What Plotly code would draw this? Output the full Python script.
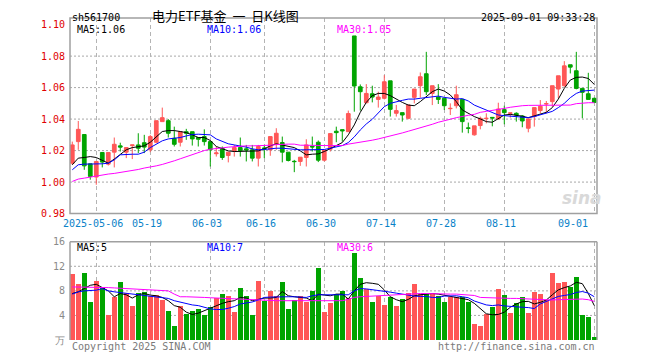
import plotly.graph_objects as go

# ---------------- data ----------------
dates = [
    '2025-04-25', '2025-04-28', '2025-04-29', '2025-04-30',
    '2025-05-06', '2025-05-07', '2025-05-08', '2025-05-09',
    '2025-05-12', '2025-05-13', '2025-05-14', '2025-05-15', '2025-05-16',
    '2025-05-19', '2025-05-20', '2025-05-21', '2025-05-22', '2025-05-23',
    '2025-05-26', '2025-05-27', '2025-05-28', '2025-05-29', '2025-05-30',
    '2025-06-03', '2025-06-04', '2025-06-05', '2025-06-06',
    '2025-06-09', '2025-06-10', '2025-06-11', '2025-06-12', '2025-06-13',
    '2025-06-16', '2025-06-17', '2025-06-18', '2025-06-19', '2025-06-20',
    '2025-06-23', '2025-06-24', '2025-06-25', '2025-06-26', '2025-06-27',
    '2025-06-30', '2025-07-01', '2025-07-02', '2025-07-03', '2025-07-04',
    '2025-07-07', '2025-07-08', '2025-07-09', '2025-07-10', '2025-07-11',
    '2025-07-14', '2025-07-15', '2025-07-16', '2025-07-17', '2025-07-18',
    '2025-07-21', '2025-07-22', '2025-07-23', '2025-07-24', '2025-07-25',
    '2025-07-28', '2025-07-29', '2025-07-30', '2025-07-31', '2025-08-01',
    '2025-08-04', '2025-08-05', '2025-08-06', '2025-08-07', '2025-08-08',
    '2025-08-11', '2025-08-12', '2025-08-13', '2025-08-14', '2025-08-15',
    '2025-08-18', '2025-08-19', '2025-08-20', '2025-08-21', '2025-08-22',
    '2025-08-25', '2025-08-26', '2025-08-27', '2025-08-28', '2025-08-29',
    '2025-09-01',
]

opens = [1.0120, 1.0257, 1.0302, 1.0116, 1.0032, 1.0188, 1.0114, 1.0190, 1.0230, 1.0190,
         1.0232, 1.0236, 1.0250, 1.0205, 1.0253, 1.0384, 1.0390, 1.0278, 1.0253, 1.0320,
         1.0320, 1.0283, 1.0289, 1.0257, 1.0180, 1.0215, 1.0169, 1.0198, 1.0219, 1.0211,
         1.0205, 1.0152, 1.0217, 1.0205, 1.0240, 1.0251, 1.0190, 1.0132, 1.0131, 1.0156,
         1.0227, 1.0253, 1.0139, 1.0209, 1.0323, 1.0333, 1.0320, 1.0928, 1.0605, 1.0504,
         1.0561, 1.0525, 1.0532, 1.0643, 1.0437, 1.0441, 1.0405, 1.0538, 1.0612, 1.0688,
         1.0563, 1.0540, 1.0532, 1.0466, 1.0485, 1.0525, 1.0344, 1.0300, 1.0359, 1.0403,
         1.0411, 1.0401, 1.0460, 1.0437, 1.0437, 1.0420, 1.0342, 1.0416, 1.0454, 1.0496,
         1.0511, 1.0591, 1.0612, 1.0745, 1.0707, 1.0595, 1.0561, 1.0532]
highs = [1.0257, 1.0388, 1.0302, 1.0116, 1.0131, 1.0188, 1.0188, 1.0283, 1.0250, 1.0220,
         1.0236, 1.0310, 1.0300, 1.0300, 1.0390, 1.0473, 1.0400, 1.0352, 1.0320, 1.0338,
         1.0320, 1.0283, 1.0335, 1.0257, 1.0226, 1.0226, 1.0190, 1.0236, 1.0283, 1.0236,
         1.0236, 1.0236, 1.0236, 1.0289, 1.0342, 1.0289, 1.0190, 1.0141, 1.0158, 1.0272,
         1.0289, 1.0264, 1.0203, 1.0308, 1.0352, 1.0333, 1.0454, 1.0928, 1.0620, 1.0622,
         1.0612, 1.0574, 1.0679, 1.0643, 1.0490, 1.0441, 1.0490, 1.0591, 1.0696, 1.0827,
         1.0612, 1.0622, 1.0532, 1.0500, 1.0612, 1.0525, 1.0378, 1.0357, 1.0416, 1.0437,
         1.0411, 1.0504, 1.0485, 1.0439, 1.0443, 1.0426, 1.0401, 1.0473, 1.0521, 1.0515,
         1.0612, 1.0675, 1.0768, 1.0745, 1.0827, 1.0595, 1.0694, 1.0536]
lows = [1.0110, 1.0205, 1.0078, 1.0015, 0.9983, 1.0093, 1.0105, 1.0093, 1.0194, 1.0152,
        1.0146, 1.0184, 1.0184, 1.0190, 1.0247, 1.0384, 1.0283, 1.0226, 1.0226, 1.0268,
        1.0232, 1.0226, 1.0232, 1.0099, 1.0162, 1.0141, 1.0125, 1.0162, 1.0162, 1.0131,
        1.0131, 1.0099, 1.0152, 1.0167, 1.0205, 1.0125, 1.0131, 1.0063, 1.0103, 1.0099,
        1.0194, 1.0127, 1.0131, 1.0194, 1.0253, 1.0257, 1.0320, 1.0447, 1.0454, 1.0500,
        1.0506, 1.0473, 1.0525, 1.0416, 1.0416, 1.0384, 1.0399, 1.0500, 1.0536, 1.0553,
        1.0489, 1.0496, 1.0458, 1.0426, 1.0468, 1.0314, 1.0310, 1.0295, 1.0335, 1.0373,
        1.0354, 1.0395, 1.0367, 1.0409, 1.0384, 1.0348, 1.0316, 1.0352, 1.0437, 1.0437,
        1.0479, 1.0532, 1.0605, 1.0690, 1.0589, 1.0405, 1.0525, 1.0506]
closes = [1.0236, 1.0335, 1.0103, 1.0036, 1.0131, 1.0127, 1.0188, 1.0240, 1.0222, 1.0219,
          1.0236, 1.0215, 1.0222, 1.0289, 1.0390, 1.0409, 1.0310, 1.0240, 1.0320, 1.0310,
          1.0274, 1.0272, 1.0257, 1.0205, 1.0185, 1.0156, 1.0190, 1.0219, 1.0200, 1.0203,
          1.0152, 1.0226, 1.0211, 1.0289, 1.0310, 1.0190, 1.0137, 1.0130, 1.0158, 1.0236,
          1.0223, 1.0139, 1.0203, 1.0308, 1.0314, 1.0325, 1.0435, 1.0610, 1.0574, 1.0563,
          1.0540, 1.0540, 1.0637, 1.0462, 1.0454, 1.0426, 1.0490, 1.0591, 1.0669, 1.0574,
          1.0612, 1.0525, 1.0485, 1.0468, 1.0555, 1.0384, 1.0342, 1.0357, 1.0405, 1.0405,
          1.0407, 1.0464, 1.0441, 1.0439, 1.0426, 1.0388, 1.0401, 1.0473, 1.0481, 1.0498,
          1.0612, 1.0675, 1.0738, 1.0730, 1.0595, 1.0570, 1.0525, 1.0506]

ma5 = [1.0110, 1.0152, 1.0156, 1.0162, 1.0156, 1.0137, 1.0120, 1.0146, 1.0177, 1.0205,
       1.0219, 1.0226, 1.0230, 1.0253, 1.0289, 1.0321, 1.0327, 1.0327, 1.0321, 1.0314,
       1.0300, 1.0283, 1.0283, 1.0264, 1.0226, 1.0211, 1.0198, 1.0194, 1.0194, 1.0194,
       1.0194, 1.0198, 1.0211, 1.0230, 1.0243, 1.0236, 1.0226, 1.0219, 1.0198, 1.0173,
       1.0177, 1.0179, 1.0194, 1.0215, 1.0232, 1.0251, 1.0300, 1.0363, 1.0443, 1.0506,
       1.0549, 1.0563, 1.0563, 1.0549, 1.0525, 1.0506, 1.0489, 1.0485, 1.0511, 1.0540,
       1.0574, 1.0591, 1.0578, 1.0553, 1.0511, 1.0458, 1.0437, 1.0416, 1.0401, 1.0384,
       1.0380, 1.0401, 1.0426, 1.0430, 1.0426, 1.0418, 1.0409, 1.0422, 1.0430, 1.0443,
       1.0473, 1.0527, 1.0595, 1.0648, 1.0665, 1.0667, 1.0658, 1.0620]
ma10 = [1.0078, 1.0110, 1.0114, 1.0114, 1.0114, 1.0116, 1.0120, 1.0141, 1.0173, 1.0177,
        1.0177, 1.0177, 1.0190, 1.0219, 1.0241, 1.0262, 1.0274, 1.0278, 1.0283, 1.0293,
        1.0302, 1.0304, 1.0304, 1.0300, 1.0274, 1.0257, 1.0243, 1.0236, 1.0230, 1.0222,
        1.0211, 1.0205, 1.0207, 1.0213, 1.0215, 1.0215, 1.0211, 1.0211, 1.0205, 1.0205,
        1.0205, 1.0205, 1.0207, 1.0215, 1.0224, 1.0232, 1.0251, 1.0287, 1.0331, 1.0369,
        1.0399, 1.0437, 1.0479, 1.0500, 1.0511, 1.0519, 1.0527, 1.0527, 1.0532, 1.0536,
        1.0540, 1.0546, 1.0538, 1.0532, 1.0527, 1.0530, 1.0515, 1.0489, 1.0473, 1.0454,
        1.0439, 1.0426, 1.0422, 1.0418, 1.0414, 1.0409, 1.0409, 1.0416, 1.0426, 1.0437,
        1.0449, 1.0473, 1.0500, 1.0536, 1.0563, 1.0578, 1.0582, 1.0584]
ma30 = [1.0004, 1.0019, 1.0025, 1.0032, 1.0036, 1.0042, 1.0051, 1.0055, 1.0061, 1.0065,
        1.0072, 1.0080, 1.0089, 1.0095, 1.0103, 1.0112, 1.0122, 1.0135, 1.0148, 1.0162,
        1.0177, 1.0190, 1.0200, 1.0209, 1.0215, 1.0217, 1.0222, 1.0226, 1.0228, 1.0230,
        1.0230, 1.0230, 1.0232, 1.0234, 1.0238, 1.0241, 1.0241, 1.0241, 1.0234, 1.0234,
        1.0232, 1.0232, 1.0232, 1.0232, 1.0232, 1.0232, 1.0241, 1.0247, 1.0253, 1.0257,
        1.0266, 1.0274, 1.0283, 1.0291, 1.0302, 1.0312, 1.0323, 1.0333, 1.0346, 1.0357,
        1.0367, 1.0380, 1.0388, 1.0399, 1.0409, 1.0418, 1.0424, 1.0430, 1.0443, 1.0449,
        1.0454, 1.0460, 1.0468, 1.0475, 1.0481, 1.0485, 1.0487, 1.0487, 1.0485, 1.0485,
        1.0485, 1.0485, 1.0485, 1.0489, 1.0498, 1.0502, 1.0504, 1.0504]

volume = [10.77, 9.07, 10.93, 6.13, 9.60, 8.69, 4.00, 6.93, 9.49, 7.73,
          5.49, 7.73, 7.89, 7.10, 7.36, 6.56, 4.69, 2.24, 5.49, 4.16,
          4.69, 5.07, 4.00, 5.33, 6.83, 7.57, 7.20, 4.53, 8.53, 7.20,
          4.00, 9.60, 6.40, 8.00, 7.20, 9.44, 5.12, 6.56, 7.20, 6.24,
          8.00, 11.73, 4.64, 5.97, 7.47, 8.00, 6.83, 14.24, 10.13, 8.27,
          6.13, 7.09, 5.76, 6.93, 5.60, 6.67, 7.73, 9.17, 7.47, 7.47,
          7.73, 7.09, 6.24, 7.04, 7.04, 6.93, 6.24, 2.56, 2.24, 4.16,
          5.33, 8.37, 7.36, 4.37, 5.97, 7.04, 4.37, 7.89, 7.47, 6.51,
          10.93, 9.33, 9.49, 8.69, 10.29, 4.00, 3.73, 0.53]
vol_ma5 = [7.57, 7.84, 8.37, 8.91, 9.07, 8.53, 8.00, 7.04, 7.57, 7.36,
           6.83, 7.36, 7.57, 7.31, 7.20, 6.93, 6.40, 5.60, 5.33, 4.53,
           4.16, 4.37, 4.80, 5.23, 5.60, 5.97, 6.24, 6.40, 6.93, 6.83,
           6.40, 6.56, 6.83, 6.83, 6.93, 7.89, 7.20, 7.04, 6.93, 6.83,
           6.40, 7.47, 7.31, 7.20, 7.47, 7.47, 6.67, 8.00, 9.07, 9.33,
           9.23, 9.07, 8.16, 7.04, 6.56, 6.24, 6.61, 7.20, 7.36, 7.47,
           7.57, 7.47, 7.31, 7.04, 6.93, 6.77, 6.56, 5.97, 5.07, 4.27,
           4.11, 4.16, 4.53, 5.33, 5.87, 6.24, 6.29, 5.87, 6.13, 6.51,
           7.36, 8.16, 8.53, 8.80, 9.39, 9.17, 7.57, 5.60]
vol_ma10 = [7.47, 7.84, 8.00, 8.00, 8.11, 8.37, 8.00, 7.84, 7.73, 7.57,
            7.47, 7.36, 7.20, 7.09, 7.04, 6.99, 6.77, 6.40, 6.13, 5.87,
            5.71, 5.60, 5.33, 5.07, 4.96, 4.96, 5.17, 5.44, 5.87, 5.97,
            6.19, 6.51, 6.93, 6.99, 7.04, 7.04, 7.04, 7.04, 6.99, 6.93,
            7.20, 7.36, 7.36, 7.36, 7.36, 7.36, 7.36, 8.00, 8.37, 8.32,
            8.21, 8.00, 7.89, 7.79, 7.63, 7.47, 7.25, 7.15, 7.09, 7.09,
            6.93, 6.93, 7.15, 7.20, 7.20, 7.04, 6.88, 6.35, 5.97, 5.71,
            5.60, 5.71, 5.55, 5.44, 5.39, 5.33, 5.28, 5.12, 5.87, 6.29,
            6.72, 7.09, 7.25, 7.41, 7.73, 7.89, 7.63, 7.04]
vol_ma30 = [8.64, 8.64, 8.64, 8.64, 8.64, 8.59, 8.53, 8.48, 8.43, 8.37,
            8.37, 8.37, 8.32, 8.27, 8.21, 8.11, 8.00, 7.47, 7.04, 7.04,
            7.04, 6.99, 6.93, 6.88, 6.83, 6.77, 6.72, 6.67, 6.67, 6.61,
            6.51, 6.45, 6.51, 6.45, 6.40, 6.40, 6.40, 6.40, 6.35, 6.35,
            6.40, 6.40, 6.40, 6.40, 6.40, 6.40, 6.61, 6.93, 7.04, 7.09,
            7.20, 7.31, 7.36, 7.36, 7.36, 7.41, 7.47, 7.52, 7.57, 7.57,
            7.52, 7.47, 7.47, 7.47, 7.47, 7.41, 7.36, 7.25, 6.93, 6.88,
            6.83, 6.83, 6.77, 6.77, 6.77, 6.72, 6.72, 6.67, 6.61, 6.51,
            6.51, 6.56, 6.61, 6.67, 6.67, 6.67, 6.56, 6.29]

price_ticks = [0.98, 1.00, 1.02, 1.04, 1.06, 1.08, 1.10]
price_grid = [1.00, 1.02, 1.04, 1.06, 1.08]
vol_ticks = [0, 4, 8, 12, 16]
vol_tick_text = ['万', '4', '8', '12', '16']
vol_grid = [4, 8, 12]
date_ticks = ['2025-05-06', '2025-05-19', '2025-06-03', '2025-06-16', '2025-06-30',
              '2025-07-14', '2025-07-28', '2025-08-11', '2025-09-01']
date_tick_text = ['2025-05-06', '05-19', '06-03', '06-16', '06-30',
                  '07-14', '07-28', '08-11', '09-01']

code = 'sh561700'
title = '电力ETF基金\u00a0\u00a0一\u00a0\u00a0日K线图'
stamp = '2025-09-01 09:33:28'
price_ma_labels = ['MA5:1.06', 'MA10:1.06', 'MA30:1.05']
vol_ma_labels = ['MA5:5', 'MA10:7', 'MA30:6']

# ---------------- styling ----------------
RED = '#ff5757'
GREEN = '#00a400'
MA_COLORS = ['#000000', '#0000ff', '#ff00ff']
MONO = 'DejaVu Sans Mono'
GRID_V = '#b4b4b4'
GRID_H = '#a8a8a8'
BORDER = '#a0a0a0'

W, H = 660, 360
L, R, T, B = 70, 597, 14, 340          # plot-area pixel box
PW, PH = R - L, B - T


def px(x):
    return (x - L) / PW


def py(y):
    return (B - y) / PH


main_dom = [py(212), 1.0]
vol_dom = [0.0, py(240.5)]

fig = go.Figure()

fig.add_trace(go.Candlestick(
    x=dates, open=opens, high=highs, low=lows, close=closes,
    increasing=dict(line=dict(color=RED, width=1), fillcolor=RED),
    decreasing=dict(line=dict(color=GREEN, width=1), fillcolor=GREEN),
    whiskerwidth=0, xaxis='x', yaxis='y', showlegend=False, hoverinfo='skip',
))
for series, col in zip([ma5, ma10, ma30], MA_COLORS):
    fig.add_trace(go.Scatter(x=dates, y=series, mode='lines',
                             line=dict(color=col, width=1),
                             xaxis='x', yaxis='y', showlegend=False, hoverinfo='skip'))

bar_colors = [RED if c >= o else GREEN for o, c in zip(opens, closes)]
fig.add_trace(go.Bar(x=dates, y=volume, marker=dict(color=bar_colors, line=dict(width=0)),
                     width=0.8, xaxis='x2', yaxis='y2', showlegend=False, hoverinfo='skip'))
for series, col in zip([vol_ma5, vol_ma10, vol_ma30], MA_COLORS):
    fig.add_trace(go.Scatter(x=dates, y=series, mode='lines',
                             line=dict(color=col, width=1),
                             xaxis='x2', yaxis='y2', showlegend=False, hoverinfo='skip'))

xcommon = dict(type='category', range=[-0.38, len(dates) - 0.55],
               tickmode='array', tickvals=date_ticks, showticklabels=False,
               ticks='', showgrid=True, gridcolor=GRID_V, gridwidth=1,
               griddash='4px,3px', zeroline=False, showline=False, fixedrange=True)

shapes = []
for g in price_grid:
    shapes.append(dict(type='line', xref='x domain', yref='y', x0=0, x1=1, y0=g, y1=g,
                       line=dict(color=GRID_H, width=1, dash='2px,2px'), layer='below'))
for g in vol_grid:
    shapes.append(dict(type='line', xref='x2 domain', yref='y2', x0=0, x1=1, y0=g, y1=g,
                       line=dict(color=GRID_H, width=1, dash='2px,2px'), layer='below'))
# panel borders
shapes.append(dict(type='rect', xref='x domain', yref='y domain', x0=0, x1=1, y0=0, y1=1,
                   line=dict(color=BORDER, width=1.5), layer='above'))
for (x0, y0, x1, y1) in [(0, 0, 0, 1), (0, 1, 1, 1), (1, 0, 1, 1)]:
    shapes.append(dict(type='line', xref='x2 domain', yref='y2 domain',
                       x0=x0, x1=x1, y0=y0, y1=y1,
                       line=dict(color=BORDER, width=1.5), layer='above'))

ann = []


def text(x, y, s, color='#000000', anchor='left', size=10, family=MONO, **kw):
    ann.append(dict(x=px(x), y=py(y), xref='paper', yref='paper', text=s, showarrow=False,
                    xanchor=anchor, yanchor='middle',
                    font=dict(family=family, size=size, color=color), **kw))


text(70, 13, code)
text(150, 11.5, title, size=13, family='Noto Sans CJK SC')
text(597, 13, stamp, anchor='right')
for lbl, col, x in zip(price_ma_labels, MA_COLORS, [75, 205, 335]):
    text(x, 26, lbl, color=col)
for lbl, col, x in zip(vol_ma_labels, MA_COLORS, [75, 205, 335]):
    text(x, 246.5, lbl, color=col)
text(70, 346.5, 'Copyright 2025 SINA.COM', color='#7a7a7a')
text(597, 346.5, 'http://finance.sina.com.cn', color='#7a7a7a', anchor='right')
# sina watermark
ann.append(dict(x=px(582), y=py(196), xref='paper', yref='paper', text='<i><b>sina</b></i>',
                showarrow=False, xanchor='center', yanchor='middle',
                font=dict(family='DejaVu Sans', size=17, color='#d9d9d9')))
# date labels on the price panel's bottom axis
for d, t in zip(date_ticks, date_tick_text):
    last = d == date_ticks[-1]
    ann.append(dict(x=d, y=py(222), xref='x', yref='paper', text=t, showarrow=False,
                    xanchor='right' if last else 'center', yanchor='middle',
                    xshift=-4 if last else -3,
                    font=dict(family=MONO, size=10, color='#0a82c8')))

fig.update_layout(
    width=W, height=H,
    margin=dict(l=L, r=W - R, t=T, b=H - B, pad=0),
    paper_bgcolor='white', plot_bgcolor='white',
    showlegend=False, boxgap=0.12, bargap=0,
    xaxis=dict(**xcommon, anchor='y', rangeslider=dict(visible=False)),
    xaxis2=dict(**xcommon, anchor='y2', matches='x'),
    yaxis=dict(domain=main_dom, range=[0.98, 1.1042], tickmode='array',
               tickvals=price_ticks, ticktext=['%.2f' % v for v in price_ticks],
               tickfont=dict(family=MONO, size=10, color='#e00000'),
               showgrid=False, zeroline=False, showline=False, ticks='',
               ticklabelstandoff=4, fixedrange=True),
    yaxis2=dict(domain=vol_dom, range=[0, 16], tickmode='array',
                tickvals=vol_ticks, ticktext=vol_tick_text,
                tickfont=dict(family=MONO, size=10, color='#8a8a8a'),
                showgrid=False, zeroline=False, showline=False, ticks='',
                ticklabelstandoff=4, fixedrange=True),
    shapes=shapes, annotations=ann,
)

fig.write_html('out.html', config={'displayModeBar': False, 'staticPlot': True},
               post_script="document.body.style.margin='0';document.body.style.overflow='hidden';")
